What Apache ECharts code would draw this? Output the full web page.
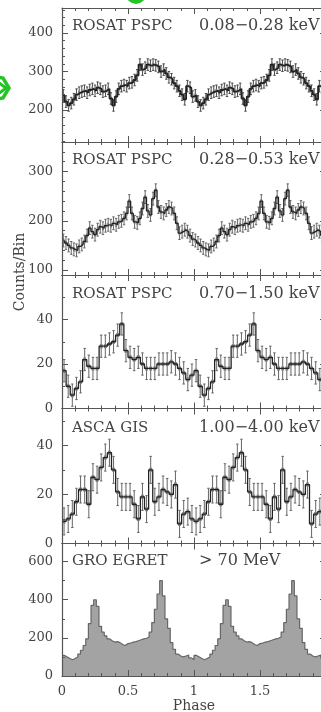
<!DOCTYPE html>
<html><head><meta charset="utf-8">
<script src="https://cdn.jsdelivr.net/npm/echarts@6/dist/echarts.min.js"></script>
<style>html,body{margin:0;padding:0;background:#fff;overflow:hidden}#c{width:321px;height:712px}</style>
</head><body><div id="c"></div>
<script>
// ---------- DATA (one pulse cycle each; figure shows two identical cycles) ----------
const rosatSoft = [238,222,212,218,228,240,245,248,250,245,
                   252,255,250,258,255,248,250,255,230,212,
                   235,255,262,265,262,270,272,278,290,318,
                   305,310,318,315,318,316,312,300,305,295,
                   285,280,270,262,250,240,228,262,258,235];
const rosatMid  = [160,155,150,145,142,140,148,152,158,170,
                   185,178,172,182,188,185,190,192,190,195,
                   192,198,200,205,215,240,215,198,196,205,
                   225,248,220,212,245,262,228,218,215,222,
                   228,225,215,195,175,178,182,178,170,163];
const rosatHard = [17,10,6,9,12,22,19,18,18,28,28,29,30,33,38,26,
                   23,22,23,20,18,18,18,20,20,20,21,20,18,16,13,15];
const ascaGis   = [9,10,12,17,22,22,16,27,26,31,35,37,30,21,19,19,
                   19,16,10,19,14,30,17,19,22,21,20,24,8,12,13,10];
const egret     = [108,100,92,85,92,100,115,135,160,195,
                   275,370,400,365,260,230,210,195,185,178,
                   180,175,165,160,170,172,178,180,185,190,
                   195,198,205,230,280,350,430,500,420,300,
                   250,175,140,115,105,100,105,110,95,85];
const errSizes  = [15, 13, 5, 5.5];           // typical 1-sigma error bar per panel
const instruments = ['ROSAT PSPC','ROSAT PSPC','ROSAT PSPC','ASCA GIS','GRO EGRET'];
const bands       = ['0.08\u22120.28 keV','0.28\u22120.53 keV','0.70\u22121.50 keV','1.00\u22124.00 keV','> 70 MeV'];
const yRanges = [[117,465],[90,360],[0,60],[0,55],[0,695]];
const yMajor  = [[200,300,400],[100,200,300],[0,20,40],[0,20,40],[0,200,400,600]];
const yMinor  = [[120,140,160,180,220,240,260,280,320,340,360,380,420,440,460],
                 [120,140,160,180,220,240,260,280,320,340],
                 [10,30,50],[10,30,50],[100,300,500]];
const phaseRange = [0, 2];
const phaseStep = 0.5;
const yTitle = 'Counts/Bin';
const xTitle = 'Phase';

// ---------- LAYOUT ----------
const tops = [8, 142, 275, 408.5, 543.5];
const bots = [142, 275, 408.5, 543.5, 676];
const axisCol = '#555';
const serif = '"DejaVu Serif", "Liberation Serif", serif';

const panels = [rosatSoft, rosatMid, rosatHard, ascaGis, egret];

function histo(vals){
  const cyc = vals.concat(vals);
  const n = cyc.length, span = phaseRange[1]-phaseRange[0];
  const pts = cyc.map((v,i)=>[phaseRange[0]+span*i/n, v]);
  pts.push([phaseRange[1], cyc[n-1]]);
  return pts;
}
function centers(vals, err){
  const cyc = vals.concat(vals);
  const n = cyc.length, span = phaseRange[1]-phaseRange[0];
  return cyc.map((v,i)=>[phaseRange[0]+span*(i+0.5)/n, v, err]);
}

const grids=[], xAxes=[], yAxes=[], series=[], graphics=[];
for (let k=0;k<5;k++){
  grids.push({left:62, width:264, top:tops[k], height:bots[k]-tops[k],
    containLabel:false, outerBoundsMode:'none'});
  const xb = {type:'value', gridIndex:k, min:phaseRange[0], max:phaseRange[1], interval:phaseStep, z:5,
    axisLine:{show:true, onZero:false, lineStyle:{color:axisCol, width:1.2}},
    axisTick:{show:true, inside:true, length:6, lineStyle:{color:axisCol, width:1}},
    minorTick:{show:true, splitNumber:5, length:3, lineStyle:{color:axisCol, width:1}},
    splitLine:{show:false}, minorSplitLine:{show:false}};
  xAxes.push(Object.assign({}, xb, {position:'bottom',
    axisLabel:{show:k===4, margin:9, color:'#444', fontSize:13, fontFamily:serif},
    name: k===4 ? xTitle : '', nameLocation:'middle', nameGap:22,
    nameTextStyle:{color:'#444', fontSize:14, fontFamily:serif}}));
  xAxes.push(Object.assign({}, xb, {position:'top', axisLabel:{show:false}}));
  const yb = {type:'value', gridIndex:k, min:yRanges[k][0], max:yRanges[k][1], z:5, splitLine:{show:false}};
  yAxes.push(Object.assign({}, yb, {position:'left',
    axisLine:{show:true, onZero:false, lineStyle:{color:axisCol, width:1.2}},
    axisTick:{show:true, inside:true, length:6, customValues:yMajor[k], lineStyle:{color:axisCol}},
    axisLabel:{show:true, customValues:yMajor[k], margin:9, color:'#444', fontSize:13, fontFamily:serif}}));
  yAxes.push(Object.assign({}, yb, {position:'left',
    axisLine:{show:false},
    axisTick:{show:true, inside:true, length:3, customValues:yMinor[k], lineStyle:{color:axisCol}},
    axisLabel:{show:false}}));
  yAxes.push(Object.assign({}, yb, {position:'right',
    axisLine:{show:true, onZero:false, lineStyle:{color:axisCol, width:1.2}},
    axisTick:{show:true, inside:true, length:6, customValues:yMajor[k], lineStyle:{color:axisCol}},
    axisLabel:{show:false}}));

  const xi = 2*k, yi = 3*k;
  if (k < 4){
    const binW = 1/panels[k].length;
    const ebCol = k===0 ? '#4a4a4a' : '#666';
    series.push({type:'custom', xAxisIndex:xi, yAxisIndex:yi, clip:true, z:2,
      data: centers(panels[k], errSizes[k]),
      renderItem:function(params, api){
        const x=api.value(0), v=api.value(1), e=api.value(2);
        const t=api.coord([x, v+e]), b=api.coord([x, v-e]), c=api.coord([x, v]);
        const bw = api.size([binW, 0])[0];
        const cap = Math.max(1.2, bw*0.3);
        const st = {stroke:ebCol, lineWidth:1};
        return {type:'group', children:[
          {type:'line', shape:{x1:t[0], y1:t[1], x2:b[0], y2:b[1]}, style:st},
          {type:'line', shape:{x1:t[0]-cap, y1:t[1], x2:t[0]+cap, y2:t[1]}, style:st},
          {type:'line', shape:{x1:b[0]-cap, y1:b[1], x2:b[0]+cap, y2:b[1]}, style:st},
          {type:'rect', shape:{x:c[0]-bw*0.35, y:c[1]-2, width:bw*0.7, height:4}, style:{fill:'#7a7a7a'}}
        ]};
      }});
    series.push({type:'line', xAxisIndex:xi, yAxisIndex:yi, step:'end', showSymbol:false,
      data: histo(panels[k]), z:3,
      lineStyle:{color:'#222', width: k===0 ? 1.8 : 1.3}});
  } else {
    series.push({type:'line', xAxisIndex:xi, yAxisIndex:yi, step:'end', showSymbol:false,
      data: histo(panels[k]), z:2,
      lineStyle:{color:'#666', width:1.2},
      areaStyle:{color:'#a3a3a3', opacity:1, origin:'start'}});
  }
  const ty = [26, 160, 294, 428, 561][k];
  graphics.push({type:'text', x:72, y:ty, z:10, style:{text:instruments[k], fill:'#444',
    font:'15px ' + serif, verticalAlign:'middle'}});
  graphics.push({type:'text', x:199, y:ty, z:10, style:{text:bands[k], fill:'#444',
    font:'16px ' + serif, verticalAlign:'middle'}});
}
graphics.push({type:'text', x:20, y:272, rotation:Math.PI/2, z:10,
  style:{text:yTitle, fill:'#444', font:'14px ' + serif, align:'center', verticalAlign:'middle'}});
// decorative green marks present at the edges of the source picture
graphics.push({type:'circle', shape:{cx:136, cy:-6, r:10}, style:{fill:'#25c425'}});
graphics.push({type:'polygon', shape:{points:[[-8,76],[3,78],[9,88],[3,98],[-8,100]]},
  style:{fill:'none', stroke:'#25c425', lineWidth:3.5}});
graphics.push({type:'polyline', shape:{points:[[-2,82],[6,88],[-2,94]]},
  style:{stroke:'#25c425', lineWidth:3}});

const chart = echarts.init(document.getElementById('c'), null, {renderer:'canvas'});
chart.setOption({animation:false, backgroundColor:'#fff',
  grid:grids, xAxis:xAxes, yAxis:yAxes, series:series, graphic:graphics});
</script></body></html>
